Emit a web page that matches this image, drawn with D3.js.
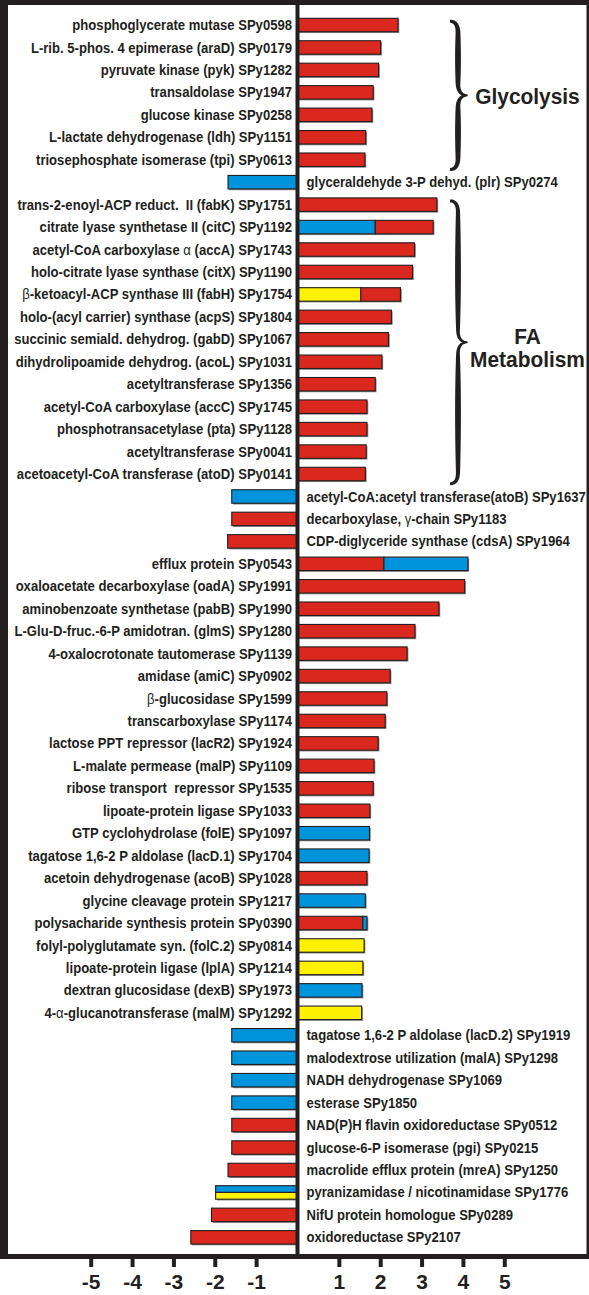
<!DOCTYPE html>
<html><head><meta charset="utf-8">
<script src="https://cdn.jsdelivr.net/npm/d3@7"></script>
<style>
html,body{margin:0;padding:0;background:#fff;}
svg{display:block;}
text{font-family:"Liberation Sans",Arial,Helvetica,sans-serif;font-weight:bold;fill:#231f20;white-space:pre;}
</style></head><body>
<svg id="chart" width="589" height="1295"></svg>
<script>
// ---------------- data ----------------
const genes = [
  "phosphoglycerate mutase SPy0598",
  "L-rib. 5-phos. 4 epimerase (araD) SPy0179",
  "pyruvate kinase (pyk) SPy1282",
  "transaldolase SPy1947",
  "glucose kinase SPy0258",
  "L-lactate dehydrogenase (ldh) SPy1151",
  "triosephosphate isomerase (tpi) SPy0613",
  "glyceraldehyde 3-P dehyd. (plr) SPy0274",
  "trans-2-enoyl-ACP reduct.  II (fabK) SPy1751",
  "citrate lyase synthetase II (citC) SPy1192",
  "acetyl-CoA carboxylase α (accA) SPy1743",
  "holo-citrate lyase synthase (citX) SPy1190",
  "β-ketoacyl-ACP synthase III (fabH) SPy1754",
  "holo-(acyl carrier) synthase (acpS) SPy1804",
  "succinic semiald. dehydrog. (gabD) SPy1067",
  "dihydrolipoamide dehydrog. (acoL) SPy1031",
  "acetyltransferase SPy1356",
  "acetyl-CoA carboxylase (accC) SPy1745",
  "phosphotransacetylase (pta) SPy1128",
  "acetyltransferase SPy0041",
  "acetoacetyl-CoA transferase (atoD) SPy0141",
  "acetyl-CoA:acetyl transferase(atoB) SPy1637",
  "decarboxylase, γ-chain SPy1183",
  "CDP-diglyceride synthase (cdsA) SPy1964",
  "efflux protein SPy0543",
  "oxaloacetate decarboxylase (oadA) SPy1991",
  "aminobenzoate synthetase (pabB) SPy1990",
  "L-Glu-D-fruc.-6-P amidotran. (glmS) SPy1280",
  "4-oxalocrotonate tautomerase SPy1139",
  "amidase (amiC) SPy0902",
  "β-glucosidase SPy1599",
  "transcarboxylase SPy1174",
  "lactose PPT repressor (lacR2) SPy1924",
  "L-malate permease (malP) SPy1109",
  "ribose transport  repressor SPy1535",
  "lipoate-protein ligase SPy1033",
  "GTP cyclohydrolase (folE) SPy1097",
  "tagatose 1,6-2 P aldolase (lacD.1) SPy1704",
  "acetoin dehydrogenase (acoB) SPy1028",
  "glycine cleavage protein SPy1217",
  "polysacharide synthesis protein SPy0390",
  "folyl-polyglutamate syn. (folC.2) SPy0814",
  "lipoate-protein ligase (lplA) SPy1214",
  "dextran glucosidase (dexB) SPy1973",
  "4-α-glucanotransferase (malM) SPy1292",
  "tagatose 1,6-2 P aldolase (lacD.2) SPy1919",
  "malodextrose utilization (malA) SPy1298",
  "NADH dehydrogenase SPy1069",
  "esterase SPy1850",
  "NAD(P)H flavin oxidoreductase SPy0512",
  "glucose-6-P isomerase (pgi) SPy0215",
  "macrolide efflux protein (mreA) SPy1250",
  "pyranizamidase / nicotinamidase SPy1776",
  "NifU protein homologue SPy0289",
  "oxidoreductase SPy2107"
];
const values = [
  2.43, 2.01, 1.96, 1.83, 1.80, 1.65, 1.63, -1.68,
  3.37, 3.28, 2.83, 2.78, 2.49, 2.27, 2.20, 2.04, 1.88, 1.68, 1.68, 1.66, 1.64,
  -1.59, -1.59, -1.69,
  4.12, 4.04, 3.42, 2.84, 2.65, 2.24, 2.16, 2.12, 1.95, 1.85, 1.83, 1.75,
  1.74, 1.73, 1.68, 1.64, 1.68, 1.61, 1.58, 1.56, 1.55,
  -1.59, -1.59, -1.59, -1.59, -1.59, -1.59, -1.68, -1.98, -2.08, -2.58
];
// R red, B blue, Y yellow; "A|B" = A up to breakValues then B; "A/B" = A upper half, B lower half
const colorCodes = [
  "R","R","R","R","R","R","R","B",
  "R","B|R","R","R","Y|R","R","R","R","R","R","R","R","R",
  "B","R","R",
  "R|B","R","R","R","R","R","R","R","R","R","R","R",
  "B","B","R","B","R|B","Y","Y","B","Y",
  "B","B","B","B","R","R","R","B/Y","R","R"
];
const breakValues = [
  null,null,null,null,null,null,null,null,
  null,1.88,null,null,1.53,null,null,null,null,null,null,null,null,
  null,null,null,
  2.09,null,null,null,null,null,null,null,null,null,null,null,
  null,null,null,null,1.58,null,null,null,null,
  null,null,null,null,null,null,null,null,null,null
];
const tickValues = [-5,-4,-3,-2,-1,1,2,3,4,5];
const groupNames = [["Glycolysis"], ["FA","Metabolism"]];
const groupFirstRow = [0, 8];
const groupLastRow = [6, 20];

// ---------------- drawing ----------------
const W = 589, H = 1295;
const ink = "#231f20";
const palette = {R:"#db281e", B:"#0094dc", Y:"#fff200"};
const svg = d3.select("#chart");

const x = d3.scaleLinear().domain([-7, 7]).range([8, 587]);
const y = d3.scaleBand().domain(d3.range(genes.length))
  .range([13.8, 13.8 + 22.45 * genes.length]).paddingInner(0.4).paddingOuter(0.2);
const bw = y.bandwidth();
const x0 = x(0);

const rows = genes.map((g, i) => {
  const v = values[i], code = colorCodes[i], br = breakValues[i];
  let segs;
  if (code.includes("|")) {
    const [c1, c2] = code.split("|");
    segs = [{a:0, b:br, c:c1, y0:0, h:1}, {a:br, b:v, c:c2, y0:0, h:1}];
  } else if (code.includes("/")) {
    const [c1, c2] = code.split("/");
    segs = [{a:0, b:v, c:c1, y0:0, h:0.5}, {a:0, b:v, c:c2, y0:0.5, h:0.5}];
  } else segs = [{a:0, b:v, c:code, y0:0, h:1}];
  return {i, g, v, segs};
});

// bar shadows
svg.append("g").selectAll("rect").data(rows).join("rect")
  .attr("x", d => Math.min(x(0), x(d.v)) + 1.3)
  .attr("y", d => y(d.i) + 1.3)
  .attr("width", d => Math.abs(x(d.v) - x(0)))
  .attr("height", bw)
  .attr("fill", "#8a8a8a");

// bar segments
const barG = svg.append("g");
rows.forEach(r => {
  barG.selectAll(null).data(r.segs).join("rect")
    .attr("x", s => Math.min(x(s.a), x(s.b)))
    .attr("y", s => y(r.i) + s.y0 * bw)
    .attr("width", s => Math.abs(x(s.b) - x(s.a)))
    .attr("height", s => s.h * bw)
    .attr("fill", s => palette[s.c])
    .attr("stroke", ink).attr("stroke-width", 1.1);
});

// labels
function addLabel(t, str) {
  str.split(/([αβγ])/).forEach(p => {
    if (!p) return;
    const ts = t.append("tspan").text(p);
    if (/[αβγ]/.test(p)) ts.style("font-weight", "normal");
  });
}
const labG = svg.append("g");
rows.forEach(r => {
  const pos = r.v > 0;
  const t = labG.append("text")
    .attr("transform", `translate(${pos ? x0 - 5.5 : x0 + 9}, ${y(r.i) + bw / 2}) scale(0.935,1)`)
    .attr("dy", "0.36em")
    .attr("text-anchor", pos ? "end" : "start")
    .style("font-size", "14px");
  addLabel(t, r.g);
});

// braces
function samplePath(d, n) {
  const p = svg.append("path").attr("d", d).attr("fill", "none");
  const node = p.node(), L = node.getTotalLength(), pts = [];
  for (let k = 0; k <= n; k++) { const q = node.getPointAtLength(L * k / n); pts.push([q.x, q.y]); }
  p.remove();
  return pts;
}
function taper(pts, wEnd, wMid, wTip) {
  const n = pts.length - 1, L = [], R = [];
  pts.forEach((p, k) => {
    const a = pts[Math.max(0, k - 1)], b = pts[Math.min(n, k + 1)];
    let dx = b[0] - a[0], dy = b[1] - a[1];
    const len = Math.hypot(dx, dy) || 1; dx /= len; dy /= len;
    const s = k / n, base = wEnd + (wTip - wEnd) * s;
    const w = base + (wMid - base) * Math.pow(Math.sin(Math.PI * s), 0.6);
    L.push([p[0] - dy * w / 2, p[1] + dx * w / 2]);
    R.push([p[0] + dy * w / 2, p[1] - dx * w / 2]);
  });
  return d3.line()(L.concat(R.reverse())) + "Z";
}
const braceG = svg.append("g");
groupNames.forEach((names, gi) => {
  const yTop = y(groupFirstRow[gi]) + 3;
  const yBot = y(groupLastRow[gi]) + bw + 3;
  const ym = (yTop + yBot) / 2;
  const xe = 450, xs = 458, xt = 467.5, r = 12;
  const up = `M${xe},${yTop} Q${xs},${yTop} ${xs},${yTop + r} L${xs},${ym - r} Q${xs},${ym} ${xt},${ym}`;
  const dn = `M${xe},${yBot} Q${xs},${yBot} ${xs},${yBot - r} L${xs},${ym + r} Q${xs},${ym} ${xt},${ym}`;
  [up, dn].forEach(d => {
    braceG.append("path").attr("d", taper(samplePath(d, 160), 2.6, 5.8, 1.2)).attr("fill", ink);
  });
  const baseY = names.length === 1 ? ym + 8.5 : ym + 1.5;
  names.forEach((nm, k) => {
    braceG.append("text")
      .attr("transform", `translate(527.5, ${baseY + k * 23.5}) scale(0.95,1)`)
      .attr("text-anchor", "middle")
      .style("font-size", "22px")
      .text(nm);
  });
});

// zero line
svg.append("line").attr("x1", x0).attr("x2", x0).attr("y1", 0).attr("y2", 1258)
  .attr("stroke", ink).attr("stroke-width", 4);

// frame
const frame = svg.append("g").attr("fill", ink);
frame.append("rect").attr("x", 0).attr("y", 0).attr("width", W).attr("height", 5);
frame.append("rect").attr("x", 0).attr("y", 0).attr("width", 8).attr("height", 1259);
frame.append("rect").attr("x", 0).attr("y", 1254).attr("width", W).attr("height", 5);
frame.append("rect").attr("x", 586.5).attr("y", 0).attr("width", 2.5).attr("height", 1259);

// axis
const axis = d3.axisBottom(x).tickValues(tickValues).tickSize(10).tickSizeOuter(0)
  .tickFormat(d => d < 0 ? "-" + Math.abs(d) : String(d));
const axG = svg.append("g").attr("transform", "translate(0,1257)").call(axis);
axG.select(".domain").remove();
axG.selectAll(".tick line").attr("stroke", ink).attr("stroke-width", 4);
axG.selectAll(".tick text").attr("y", 32).attr("dy", 0)
  .attr("fill", ink)
  .style("font-family", '"Liberation Sans",Arial,sans-serif')
  .style("font-weight", "bold").style("font-size", "21px");
</script>
</body></html>
